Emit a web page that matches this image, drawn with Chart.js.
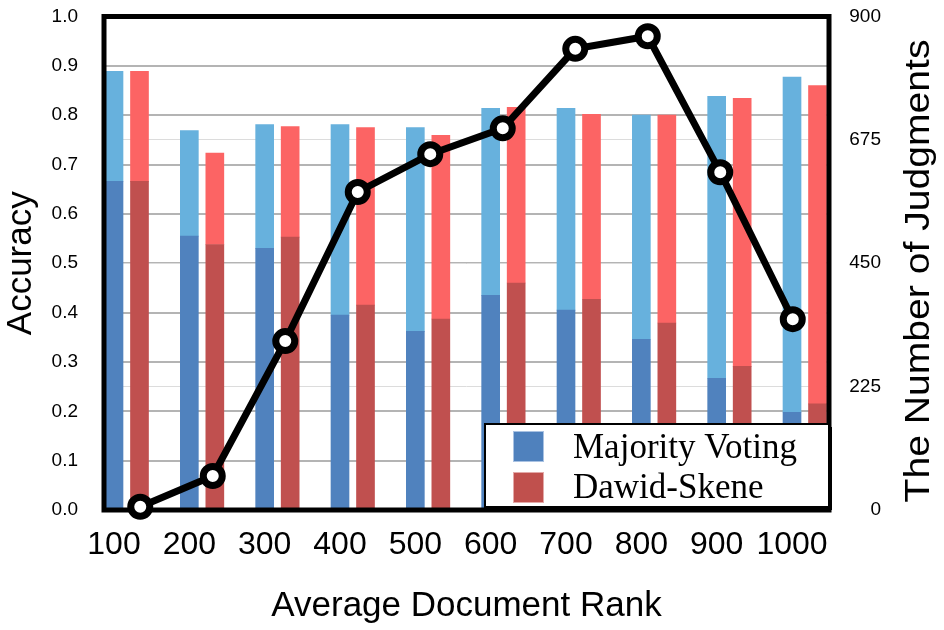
<!DOCTYPE html>
<html>
<head>
<meta charset="utf-8">
<script src="https://cdn.jsdelivr.net/npm/chart.js@4/dist/chart.umd.min.js"></script>
<style>
  html, body { margin: 0; padding: 0; background: #fff; }
  canvas { display: block; }
</style>
</head>
<body>
<canvas id="rankChart" width="944" height="630"></canvas>
<script>
// ===== Data =====
const ranks = [100, 200, 300, 400, 500, 600, 700, 800, 900, 1000];

// dark lower part and full bar height
const mvDark  = [0.666, 0.555, 0.530, 0.395, 0.362, 0.435, 0.405, 0.346, 0.267, 0.198];
const mvTotal = [0.889, 0.769, 0.781, 0.781, 0.775, 0.814, 0.814, 0.800, 0.838, 0.877];
const dsDark  = [0.666, 0.538, 0.553, 0.415, 0.387, 0.460, 0.427, 0.379, 0.291, 0.215];
const dsTotal = [0.889, 0.723, 0.777, 0.775, 0.759, 0.816, 0.802, 0.800, 0.834, 0.860];

const judgments = [6, 62, 308, 580, 649, 696, 841, 864, 616, 348];

const accuracyTicks = [0, 0.1, 0.2, 0.3, 0.4, 0.5, 0.6, 0.7, 0.8, 0.9, 1.0];
const judgmentTicks = [0, 225, 450, 675, 900];

const SANS = '"Liberation Sans", Arial, sans-serif';
const SERIF = '"Liberation Serif", "Times New Roman", serif';

// rank axis range; the Dawid-Skene bars sit on a copy of it shifted one bar slot
const rankMin = 86.73, rankMax = 1049.1, dsShift = 33.85;

const asPoints = (vals) => vals.map((v, i) => ({ x: ranks[i], y: v }));
const upperPart = (total, dark) => total.map((t, i) => ({ x: ranks[i], y: t - dark[i] }));

const legendItems = [
  { label: 'Majority Voting', color: '#4F81BD', edge: '#A9C2E2' },
  { label: 'Dawid-Skene', color: '#C0504D', edge: '#E3A9A8' }
];

const decorations = {
  id: 'decorations',

  // plot frame goes over the bars but under the line
  beforeDatasetDraw(chart, args) {
    if (args.meta.type !== 'line') return;
    const { ctx, chartArea: a } = chart;
    ctx.save();
    ctx.lineWidth = 5;
    ctx.strokeStyle = '#000';
    ctx.strokeRect(a.left, a.top, a.width, a.height);
    ctx.restore();
  },

  afterDraw(chart) {
    const { ctx, chartArea: a } = chart;

    // legend box inside the plot, bottom right
    const lw = 344, lh = 83;
    const lx = a.right - lw, ly = a.bottom - 86;
    ctx.save();
    ctx.fillStyle = '#000';
    ctx.fillRect(lx + 3, ly + 3, lw, lh);
    ctx.fillStyle = '#fff';
    ctx.fillRect(lx, ly, lw, lh);
    ctx.lineWidth = 2;
    ctx.strokeStyle = '#000';
    ctx.strokeRect(lx, ly, lw, lh);

    ctx.font = '35px ' + SERIF;
    ctx.textAlign = 'left';
    ctx.textBaseline = 'alphabetic';
    legendItems.forEach((item, i) => {
      const sy = ly + 7 + i * 41;
      ctx.fillStyle = item.color;
      ctx.fillRect(lx + 28, sy, 30, 30);
      ctx.lineWidth = 1;
      ctx.strokeStyle = item.edge;
      ctx.strokeRect(lx + 28.5, sy + 0.5, 30, 30);
      ctx.fillStyle = '#000';
      ctx.fillText(item.label, lx + 88, ly + 34 + i * 40);
    });
    ctx.restore();

    // right axis title, reading bottom to top
    const text = 'The Number of Judgments';
    ctx.save();
    ctx.translate(919, 271);
    ctx.rotate(-Math.PI / 2);
    ctx.font = '35px ' + SANS;
    const w = ctx.measureText(text).width;
    ctx.scale(463 / w, 1);
    ctx.fillStyle = '#000';
    ctx.textAlign = 'center';
    ctx.textBaseline = 'middle';
    ctx.fillText(text, 0, 0);
    ctx.restore();
  }
};

const rankChart = document.getElementById('rankChart');

new Chart(rankChart, {
  data: {
    labels: ranks,

    datasets: [
      {
        type: 'bar',
        label: 'Majority Voting',
        stack: 'mv',
        order: 1,
        data: asPoints(mvDark),
        backgroundColor: '#5082BE',
        xAxisID: 'x',
        yAxisID: 'y'
      },
      {
        type: 'bar',
        label: 'Majority Voting (upper)',
        stack: 'mv',
        order: 1,
        data: upperPart(mvTotal, mvDark),
        backgroundColor: '#67B1DD',
        xAxisID: 'x',
        yAxisID: 'y'
      },
      {
        type: 'bar',
        label: 'Dawid-Skene',
        stack: 'ds',
        order: 1,
        data: asPoints(dsDark),
        backgroundColor: '#C0504F',
        xAxisID: 'xds',
        yAxisID: 'y'
      },
      {
        type: 'bar',
        label: 'Dawid-Skene (upper)',
        stack: 'ds',
        order: 1,
        data: upperPart(dsTotal, dsDark),
        backgroundColor: '#FC6464',
        xAxisID: 'xds',
        yAxisID: 'y'
      },
      {
        type: 'line',
        label: 'Judgments',
        order: 0,
        data: judgments,
        xAxisID: 'x2',
        yAxisID: 'y2',
        borderColor: '#000',
        borderWidth: 7,
        pointRadius: 9.5,
        pointBorderWidth: 7,
        pointBackgroundColor: '#fff',
        pointBorderColor: '#000',
        tension: 0,
        clip: false
      }
    ]
  },

  options: {
    responsive: false,
    animation: false,
    devicePixelRatio: 1,

    layout: {
      padding: { top: 16, left: 0, right: 63, bottom: 0 }
    },

    datasets: {
      bar: {
        grouped: false,
        barThickness: 18
      }
    },

    scales: {
      x: {
        type: 'linear',
        position: 'bottom',
        offset: false,
        min: rankMin,
        max: rankMax,
        afterBuildTicks: (scale) => { scale.ticks = ranks.map(v => ({ value: v })); },
        afterFit: (scale) => { scale.height = 120; },
        grid: { display: false, drawTicks: false },
        border: { display: false },
        ticks: {
          autoSkip: false,
          maxRotation: 0,
          padding: 16,
          color: '#000',
          font: { family: SANS, size: 32 },
          callback: (v) => String(v)
        },
        title: {
          display: true,
          text: 'Average Document Rank',
          color: '#000',
          font: { family: SANS, size: 35 },
          padding: { top: 0, bottom: 3 }
        }
      },

      xds: {
        type: 'linear',
        position: 'bottom',
        offset: false,
        display: false,
        min: rankMin - dsShift,
        max: rankMax - dsShift
      },

      x2: {
        type: 'category',
        labels: ranks,
        offset: true,
        display: false
      },

      y: {
        position: 'left',
        stacked: true,
        min: 0,
        max: 1,
        afterBuildTicks: (scale) => { scale.ticks = accuracyTicks.map(v => ({ value: v })); },
        afterFit: (scale) => { scale.width = 104; },
        grid: { color: '#B4B4B4', lineWidth: 2, drawTicks: true, tickLength: 26, tickColor: 'rgba(0,0,0,0)' },
        border: { display: false },
        ticks: {
          padding: 0,
          color: '#000',
          font: { family: SANS, size: 19 },
          callback: (v) => v.toFixed(1)
        },
        title: {
          display: true,
          text: 'Accuracy',
          color: '#000',
          font: { family: SANS, size: 35 },
          padding: { top: 0, bottom: 0 }
        }
      },

      y2: {
        position: 'right',
        min: 0,
        max: 900,
        afterBuildTicks: (scale) => { scale.ticks = judgmentTicks.map(v => ({ value: v })); },
        afterFit: (scale) => { scale.width = 52; },
        grid: { color: '#DCDCDC', lineWidth: 1, drawTicks: false },
        border: { display: false },
        ticks: {
          crossAlign: 'far',
          padding: 0,
          color: '#000',
          font: { family: SANS, size: 19 },
          callback: (v) => String(v)
        }
      }
    },

    plugins: {
      legend: { display: false },
      tooltip: { enabled: false }
    }
  },

  plugins: [decorations]
});
</script>
</body>
</html>
